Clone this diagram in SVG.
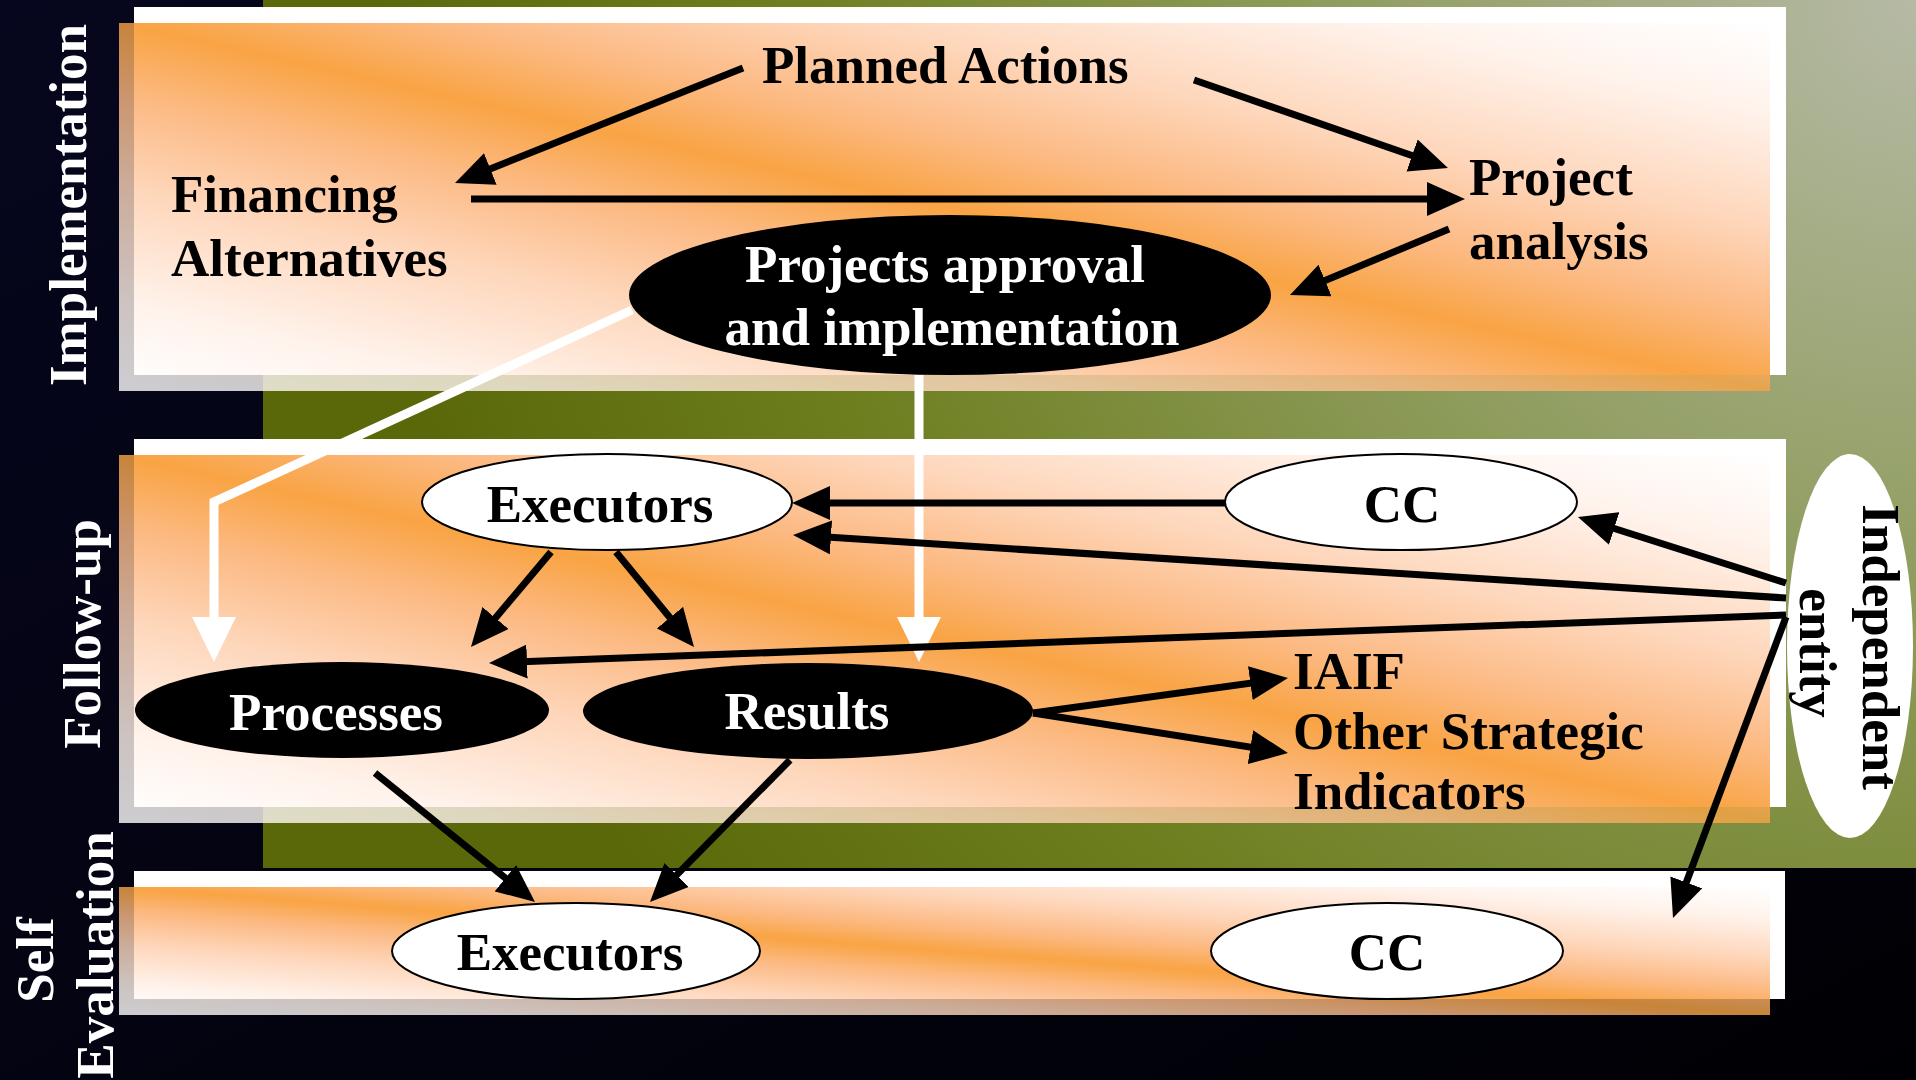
<svg xmlns="http://www.w3.org/2000/svg" width="1916" height="1080" viewBox="0 0 1916 1080">
<defs>
  <radialGradient id="bgGreen" gradientUnits="userSpaceOnUse" cx="1916" cy="0" r="1550">
    <stop offset="0" stop-color="#B6BAA6"/>
    <stop offset="0.4" stop-color="#8D9B5A"/>
    <stop offset="0.75" stop-color="#6B7D1C"/>
    <stop offset="1" stop-color="#5A680A"/>
  </radialGradient>
  <linearGradient id="bgDark" x1="0" y1="0" x2="1" y2="1">
    <stop offset="0" stop-color="#06061E"/>
    <stop offset="0.6" stop-color="#03030F"/>
    <stop offset="1" stop-color="#000004"/>
  </linearGradient>
  <linearGradient id="pg" x1="0" y1="1" x2="1" y2="0">
    <stop offset="0" stop-color="#FFFFFF"/>
    <stop offset="0.12" stop-color="#FFF3EC"/>
    <stop offset="0.28" stop-color="#FED6BA"/>
    <stop offset="0.4" stop-color="#FCBA84"/>
    <stop offset="0.5" stop-color="#F9A444"/>
    <stop offset="0.6" stop-color="#FCBA84"/>
    <stop offset="0.72" stop-color="#FED6BA"/>
    <stop offset="0.88" stop-color="#FFF3EC"/>
    <stop offset="1" stop-color="#FFFFFF"/>
  </linearGradient>
  <clipPath id="c1"><rect x="134" y="23" width="1636" height="352"/></clipPath>
  <clipPath id="c2"><rect x="134" y="455" width="1636" height="352"/></clipPath>
  <clipPath id="c3"><rect x="134" y="887" width="1636" height="112"/></clipPath>
  <marker id="ah" markerUnits="userSpaceOnUse" viewBox="0 0 38 34" markerWidth="38" markerHeight="34" refX="28" refY="17" orient="auto">
    <path d="M0,0 L38,17 L0,34 z" fill="#000"/>
  </marker>
  <marker id="wah" markerUnits="userSpaceOnUse" viewBox="0 0 45 44" markerWidth="45" markerHeight="44" refX="35" refY="22" orient="auto">
    <path d="M0,0 L45,22 L0,44 z" fill="#fff"/>
  </marker>
</defs>
<style>
  .lbl{font-family:"Liberation Serif","Times New Roman",serif;font-weight:bold;font-size:53px}
  .dk{fill:#000}
  .wt{fill:#fff}
  .panelW{fill:#fff}
  .panelO{fill:url(#pg)}
  .ln{stroke:#000;stroke-width:7;fill:none;marker-end:url(#ah)}
  .wl{stroke:#fff;stroke-width:9;fill:none;stroke-linejoin:miter;marker-end:url(#wah)}
  .wn{fill:#fff;stroke:#000;stroke-width:2}
  .bn{fill:#000}
</style>

<!-- background -->
<rect x="0" y="0" width="1916" height="1080" fill="url(#bgDark)"/>
<rect x="263" y="0" width="1653" height="868" fill="url(#bgGreen)"/>

<!-- panels -->
<g id="panel-implementation">
  <rect class="panelW" x="134" y="7" width="1652" height="368"/>
  <rect class="panelO" x="119" y="23" width="1651" height="368" opacity="0.8"/>
  <rect class="panelO" x="119" y="23" width="1651" height="368" clip-path="url(#c1)"/>
  <text class="lbl wt" transform="translate(86,205) rotate(-90)" text-anchor="middle">Implementation</text>
</g>
<g id="panel-followup">
  <rect class="panelW" x="134" y="439" width="1652" height="368"/>
  <rect class="panelO" x="119" y="455" width="1651" height="368" opacity="0.8"/>
  <rect class="panelO" x="119" y="455" width="1651" height="368" clip-path="url(#c2)"/>
  <text class="lbl wt" transform="translate(100,634) rotate(-90)" text-anchor="middle">Follow-up</text>
</g>
<g id="panel-selfeval">
  <rect class="panelW" x="134" y="871" width="1651" height="128"/>
  <rect class="panelO" x="119" y="887" width="1651" height="128" opacity="0.8"/>
  <rect class="panelO" x="119" y="887" width="1651" height="128" clip-path="url(#c3)"/>
  <text class="lbl wt" transform="translate(53,960) rotate(-90)" text-anchor="middle">Self</text>
  <text class="lbl wt" transform="translate(113,955) rotate(-90)" text-anchor="middle">Evaluation</text>
</g>

<!-- nodes -->
<g id="node-planned-actions">
  <text class="lbl dk" x="762" y="83">Planned Actions</text>
</g>
<g id="node-financing">
  <text class="lbl dk" x="171" y="212">Financing</text>
  <text class="lbl dk" x="171" y="276">Alternatives</text>
</g>
<g id="node-project-analysis">
  <text class="lbl dk" x="1469" y="195">Project</text>
  <text class="lbl dk" x="1469" y="259">analysis</text>
</g>
<g id="node-approval">
  <ellipse class="bn" cx="950" cy="295" rx="321" ry="80"/>
  <text class="lbl wt" x="945" y="282" text-anchor="middle">Projects approval</text>
  <text class="lbl wt" x="952" y="345" text-anchor="middle">and implementation</text>
</g>
<g id="node-executors-fu">
  <ellipse class="wn" cx="607" cy="502" rx="185" ry="48"/>
  <text class="lbl dk" x="600" y="522" text-anchor="middle">Executors</text>
</g>
<g id="node-cc-fu">
  <ellipse class="wn" cx="1401" cy="502" rx="176" ry="48"/>
  <text class="lbl dk" x="1402" y="522" text-anchor="middle">CC</text>
</g>
<g id="node-processes">
  <ellipse class="bn" cx="342" cy="710" rx="207" ry="48"/>
  <text class="lbl wt" x="336" y="730" text-anchor="middle">Processes</text>
</g>
<g id="node-results">
  <ellipse class="bn" cx="808" cy="711" rx="225" ry="48"/>
  <text class="lbl wt" x="807" y="729" text-anchor="middle">Results</text>
</g>
<g id="node-iaif">
  <text class="lbl dk" x="1293" y="689">IAIF</text>
</g>
<g id="node-other-indicators">
  <text class="lbl dk" x="1293" y="749">Other Strategic</text>
  <text class="lbl dk" x="1293" y="809">Indicators</text>
</g>
<g id="node-independent">
  <ellipse fill="#fff" cx="1850" cy="646" rx="63" ry="192"/>
  <text class="lbl dk" transform="translate(1863,647) rotate(90)" text-anchor="middle">Independent</text>
  <text class="lbl dk" transform="translate(1800,653) rotate(90)" text-anchor="middle">entity</text>
</g>
<g id="node-executors-se">
  <ellipse class="wn" cx="576" cy="951" rx="184" ry="48"/>
  <text class="lbl dk" x="570" y="970" text-anchor="middle">Executors</text>
</g>
<g id="node-cc-se">
  <ellipse class="wn" cx="1387" cy="951" rx="176" ry="48"/>
  <text class="lbl dk" x="1387" y="970" text-anchor="middle">CC</text>
</g>

<!-- connectors -->
<g id="connectors">
  <polyline class="wl" points="632,310 214,502 214,652"/>
  <line class="wl" x1="919" y1="375" x2="919" y2="652"/>

  <line class="ln" x1="743" y1="68" x2="464.3" y2="179.3"/>
  <line class="ln" x1="1194" y1="80" x2="1438.5" y2="164.7"/>
  <line class="ln" x1="471" y1="199" x2="1455" y2="199"/>
  <line class="ln" x1="1449" y1="229" x2="1299.2" y2="291.2"/>

  <line class="ln" x1="1225" y1="503" x2="802" y2="503"/>
  <line class="ln" x1="1786" y1="598" x2="803" y2="535.6"/>
  <line class="ln" x1="1786" y1="583" x2="1587.5" y2="520"/>
  <line class="ln" x1="1786" y1="615" x2="499" y2="662.6"/>
  <line class="ln" x1="1786" y1="617" x2="1676.5" y2="908.6"/>

  <line class="ln" x1="551" y1="552" x2="477.4" y2="639.4"/>
  <line class="ln" x1="616" y1="552" x2="687.7" y2="639.3"/>
  <line class="ln" x1="1033" y1="713" x2="1278.1" y2="679.4"/>
  <line class="ln" x1="1033" y1="713" x2="1278.1" y2="751.5"/>

  <line class="ln" x1="375" y1="773" x2="527.2" y2="895.7"/>
  <line class="ln" x1="790" y1="760" x2="657" y2="894.9"/>
</g>
</svg>
